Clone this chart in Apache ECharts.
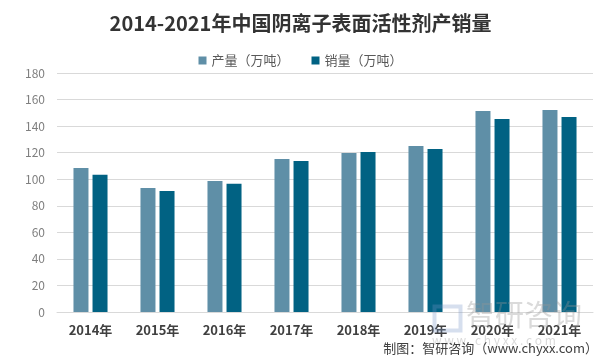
<!DOCTYPE html>
<html><head><meta charset="utf-8">
<script src="https://cdn.jsdelivr.net/npm/echarts@6/dist/echarts.min.js"></script>
<style>html,body{margin:0;padding:0;background:#fff}#c{width:601px;height:362px}</style>
</head><body><div id="c"></div>
<script>
var categories = ['2014年','2015年','2016年','2017年','2018年','2019年','2020年','2021年'];
var production = [108.5, 93.4, 98.6, 115.3, 119.8, 125.1, 151.4, 152.1];
var sales = [103.3, 91.2, 96.5, 113.8, 120.5, 122.8, 145.4, 146.9];
var yTicks = [0, 20, 40, 60, 80, 100, 120, 140, 160, 180];
var chart = echarts.init(document.getElementById('c'));
var F = '"Microsoft YaHei","Noto Sans CJK SC",sans-serif';
chart.setOption({
  animation: false,
  title: { text: '2014-2021年中国阴离子表面活性剂产销量', left: 'center', top: 8,
    textStyle: { fontSize: 20, fontWeight: 'bold', color: '#333', fontFamily: F } },
  legend: { top: 49, left: 'center', itemWidth: 8, itemHeight: 8, itemGap: 22, icon: 'rect',
    textStyle: { fontSize: 13, color: '#595959', fontFamily: F } },
  grid: { left: 57, right: 8, top: 73, bottom: 50 },
  xAxis: { type: 'category', data: categories,
    axisLine: { lineStyle: { color: '#d9d9d9' } }, axisTick: { show: false },
    axisLabel: { fontSize: 13, fontWeight: 'bold', color: '#404040', margin: 12, fontFamily: F } },
  yAxis: { type: 'value', min: yTicks[0], max: yTicks[yTicks.length-1], interval: 20,
    axisLine: { show: false }, axisTick: { show: false },
    splitLine: { lineStyle: { color: '#d9d9d9' } },
    axisLabel: { fontSize: 12, color: '#7f7f7f', margin: 12, fontFamily: F } },
  series: [
    { name: '产量（万吨）', type: 'bar', data: production, barWidth: 15, barGap: '27%',
      itemStyle: { color: '#5f8fa7' } },
    { name: '销量（万吨）', type: 'bar', data: sales, barWidth: 15,
      itemStyle: { color: '#016283' } }
  ],
  graphic: [
    { type: 'rect', left: 432, top: 304, silent: true, z: 100,
      shape: { width: 26, height: 24 }, style: { fill: 'none', stroke: 'rgba(120,150,200,0.3)', lineWidth: 4 } },
    { type: 'text', left: 466, top: 300, silent: true, z: 100,
      style: { text: '智研咨询', fontSize: 29, fill: 'rgba(150,150,150,0.35)', fontFamily: F } },
    { type: 'text', left: 432, top: 334, silent: true, z: 100,
      style: { text: 'w w w . c h y x x . c o m', fontSize: 12, fill: 'rgba(150,150,150,0.35)', fontFamily: F } },
    { type: 'text', right: 3, top: 342, z: 101,
      style: { text: '制图：智研咨询（www.chyxx.com）', fontSize: 13, fill: '#404040', fontFamily: F } }
  ]
});
</script></body></html>
